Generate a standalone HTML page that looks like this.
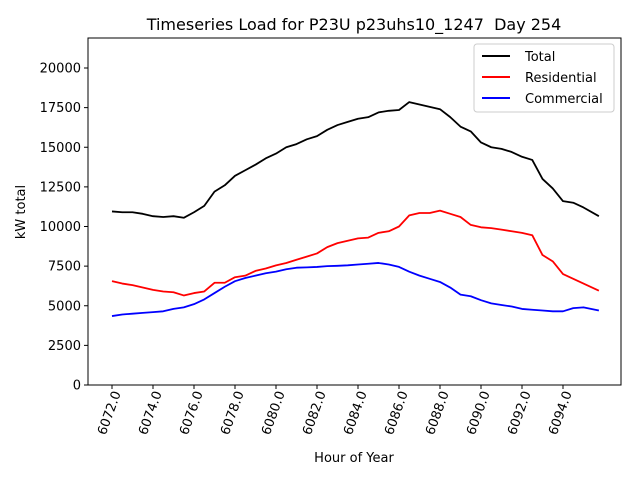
<!DOCTYPE html>
<html><head><meta charset="utf-8"><style>
body{margin:0;background:#fff;}
svg{font-family:"DejaVu Sans","Liberation Sans",sans-serif;}
</style></head><body>
<svg id="chart" width="640" height="480">
<rect width="640" height="480" fill="#fff"/>
<text x="354" y="30" font-size="16" text-anchor="middle" style="white-space:pre">Timeseries Load for P23U p23uhs10_1247  Day 254</text>
<g id="plot"></g>
<rect x="88" y="38" width="533" height="347" fill="none" stroke="#000" stroke-width="1"/>
<text x="354" y="462" font-size="13" text-anchor="middle">Hour of Year</text>
<text transform="translate(25,212) rotate(-90)" font-size="13" text-anchor="middle">kW total</text>
<g>
<rect x="474" y="44" width="140" height="68" rx="3" fill="#fff" stroke="#ccc"/>
<line x1="482" y1="56" x2="510" y2="56" stroke="#000" stroke-width="2"/><text x="525" y="61" font-size="13">Total</text>
<line x1="482" y1="77" x2="510" y2="77" stroke="#f00" stroke-width="2"/><text x="525" y="82" font-size="13">Residential</text>
<line x1="482" y1="98" x2="510" y2="98" stroke="#00f" stroke-width="2"/><text x="525" y="103" font-size="13">Commercial</text>
</g>
</svg>
<script>
const hours=[6072,6072.5,6073,6073.5,6074,6074.5,6075,6075.5,6076,6076.5,6077,6077.5,6078,6078.5,6079,6079.5,6080,6080.5,6081,6081.5,6082,6082.5,6083,6083.5,6084,6084.5,6085,6085.5,6086,6086.5,6087,6087.5,6088,6088.5,6089,6089.5,6090,6090.5,6091,6091.5,6092,6092.5,6093,6093.5,6094,6094.5,6095,6095.75];
const total=[10950,10900,10900,10800,10650,10600,10650,10550,10900,11300,12200,12600,13200,13550,13900,14300,14600,15000,15200,15500,15700,16100,16400,16600,16800,16900,17200,17300,17350,17850,17700,17550,17400,16900,16300,16000,15300,15000,14900,14700,14400,14200,13000,12400,11600,11500,11200,10650];
const residential=[6550,6400,6300,6150,6000,5900,5850,5650,5800,5900,6450,6450,6800,6900,7200,7350,7550,7700,7900,8100,8300,8700,8950,9100,9250,9300,9600,9700,10000,10700,10850,10850,11000,10800,10600,10100,9950,9900,9800,9700,9600,9450,8200,7800,7000,6700,6400,5950];
const commercial=[4350,4450,4500,4550,4600,4650,4800,4900,5100,5400,5800,6200,6550,6750,6900,7050,7150,7300,7400,7420,7450,7500,7520,7550,7600,7650,7700,7600,7450,7150,6900,6700,6500,6150,5700,5600,5350,5150,5050,4950,4800,4750,4700,4650,4650,4850,4900,4700];
const xTicks=[6072,6074,6076,6078,6080,6082,6084,6086,6088,6090,6092,6094];
const yTicks=[0,2500,5000,7500,10000,12500,15000,17500,20000];
const NS="http://www.w3.org/2000/svg";
const X=h=>112+(h-6072)*20.5;
const Y=v=>385-v*0.01585;
const g=document.getElementById('plot');
function mk(t,a){const e=document.createElementNS(NS,t);for(const k in a)e.setAttribute(k,a[k]);g.appendChild(e);return e;}
yTicks.forEach(v=>{
  const l=mk('line',{x1:84,x2:88,y1:Y(v),y2:Y(v),stroke:'#000'});
  
  
  const t=mk('text',{x:81,y:Y(v)+4.5,'font-size':13,'text-anchor':'end'});
  t.textContent=v;
  
  
});
xTicks.forEach(h=>{
  const l=mk('line',{x1:X(h),x2:X(h),y1:385,y2:389,stroke:'#000'});
  
  
  const t=mk('text',{transform:`translate(${X(h)+9},393) rotate(-70)`,'font-size':13,'text-anchor':'end'});
  t.textContent=h.toFixed(1);
  
  
});
[[total,'#000','total-line'],[residential,'#f00','residential-line'],[commercial,'#00f','commercial-line']].forEach(([s,c,n])=>{
  const p=mk('polyline',{points:s.map((v,i)=>X(hours[i])+','+Y(v)).join(' '),fill:'none',stroke:c,'stroke-width':1.8,'stroke-linejoin':'round'});
  
  
});
</script>
</body></html>
